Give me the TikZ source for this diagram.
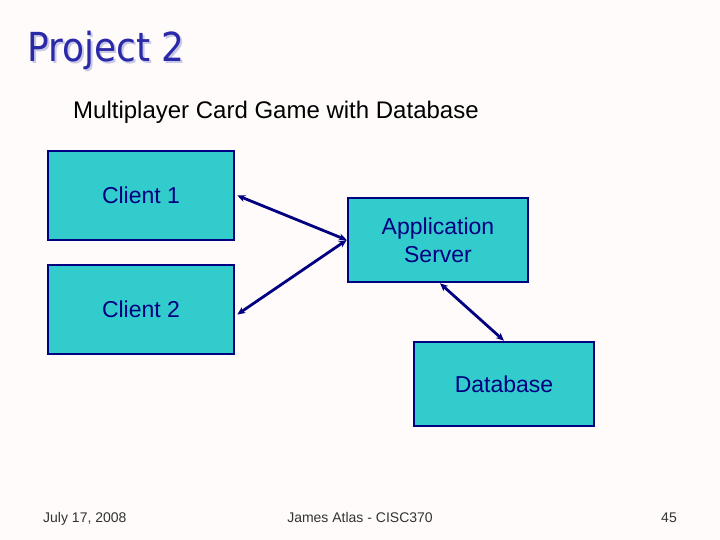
\documentclass[tikz,border=0pt]{standalone}
\usepackage{fontspec}
\setmainfont{Liberation Sans}
\newfontfamily\titlefont{DejaVu Sans}
\usetikzlibrary{arrows.meta}
\definecolor{navy}{HTML}{000080}
\definecolor{boxfill}{HTML}{33CCCC}
\definecolor{titleblue}{HTML}{2A2AA8}
\definecolor{shadowc}{HTML}{C8C8E4}
\definecolor{bgc}{HTML}{FFFBFB}
\begin{document}
\begin{tikzpicture}[x=1pt,y=-1pt,
  box/.style={draw=navy,line width=2.6pt,fill=boxfill,text=navy,font=\fontsize{23}{28}\selectfont,align=center,inner sep=0pt},
  link/.style={draw=navy,line width=2.8pt,{Stealth[length=8pt,width=7pt]}-{Stealth[length=8pt,width=7pt]}},
  foot/.style={text=black!80,font=\fontsize{14}{16}\selectfont,inner sep=0pt}]
\fill[bgc] (0,0) rectangle (720,540);
\useasboundingbox (0,0) rectangle (720,540);
\node[text=shadowc,font=\titlefont\fontsize{40}{46}\selectfont,anchor=west,xscale=0.9,inner sep=0pt] (shadow) at (29,52) {Project 2};
\node[text=titleblue,font=\titlefont\fontsize{40}{46}\selectfont,anchor=west,xscale=0.9,inner sep=0pt] (title) at (27,50) {Project 2};
\node[anchor=west,font=\fontsize{24}{28}\selectfont,inner sep=0pt] (sub) at (73,112) {Multiplayer Card Game with Database};
\node[box,minimum width=186pt,minimum height=89pt] (c1) at (141,195.5) {Client 1};
\node[box,minimum width=186pt,minimum height=89pt] (c2) at (141,309.5) {Client 2};
\node[box,minimum width=180pt,minimum height=84pt] (app) at (438,240) {Application\\Server};
\node[box,minimum width=180pt,minimum height=84pt] (db) at (504,384) {Database};
\draw[link] ([xshift=2pt]c1.east) -- (app.west);
\draw[link] ([xshift=2pt,yshift=-5pt]c2.east) -- (app.west);
\draw[link] ([xshift=2pt]app.south) -- (db.north);
\node[foot,anchor=base west] (d) at (43,522) {July 17, 2008};
\node[foot,anchor=base] (a) at (360,522) {James Atlas - CISC370};
\node[foot,anchor=base east] (n) at (677,522) {45};
\end{tikzpicture}
\end{document}
